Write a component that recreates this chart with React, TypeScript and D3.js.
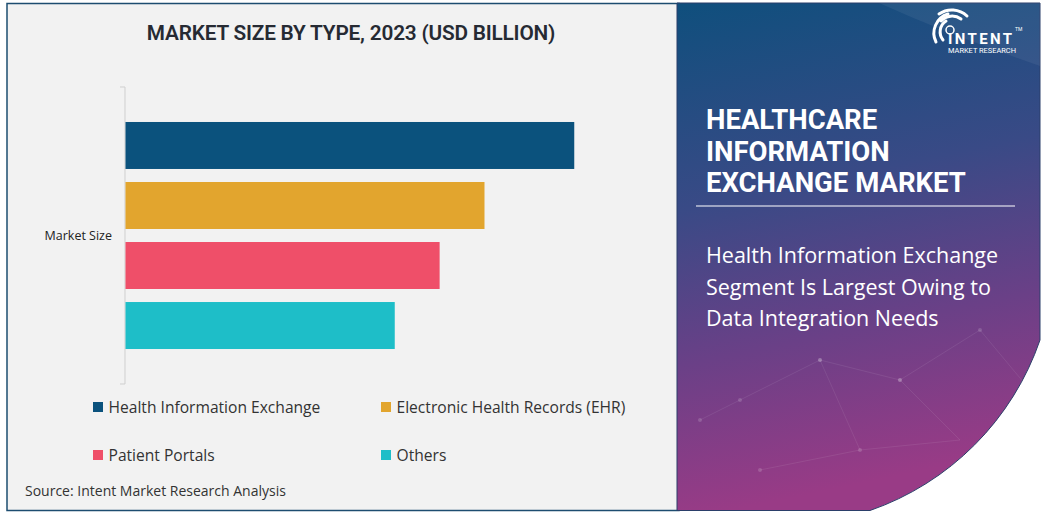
import React from "react";
import * as d3 from "d3";

const categories = ["Market Size"];
const seriesNames = [
  "Health Information Exchange",
  "Electronic Health Records (EHR)",
  "Patient Portals",
  "Others",
];
const seriesValues = [2.5, 2.0, 1.75, 1.5];
const seriesColors = ["#0b527d", "#e2a52e", "#ef4f69", "#1ebec8"];
const chartTitle = "MARKET SIZE BY TYPE, 2023 (USD BILLION)";
const headline = ["HEALTHCARE", "INFORMATION", "EXCHANGE MARKET"];
const subline = [
  "Health Information Exchange",
  "Segment Is Largest Owing to",
  "Data Integration Needs",
];
const sourceText = "Source: Intent Market Research Analysis";

const W = 1043;
const H = 513;

export default function App() {
  const y0 = d3.scaleBand<string>().domain(categories).range([87, 384]).padding(0);
  const y1 = d3
    .scaleBand<string>()
    .domain(seriesNames)
    .range([0, y0.bandwidth()])
    .paddingInner(0.217)
    .paddingOuter(0.583);
  const x = d3.scaleLinear().domain([0, 3]).range([125.5, 664]);

  const legendPos = [
    { x: 93, y: 402 },
    { x: 381, y: 402 },
    { x: 93, y: 450 },
    { x: 381, y: 450 },
  ];

  const panelPath = `M677,3 H1040 V340 A275,275 0 0 1 870,510.5 H677 Z`;

  return (
    <svg
      width={W}
      height={H}
      style={{ position: "absolute", left: 0, top: 0 }}
      fontFamily="'Open Sans', Roboto, sans-serif"
    >
      <defs>
        <linearGradient id="pg" x1="0" y1="0" x2="0.15" y2="1">
          <stop offset="0" stopColor="#0f4f7d" />
          <stop offset="0.4" stopColor="#394a86" />
          <stop offset="0.7" stopColor="#6a4087" />
          <stop offset="1" stopColor="#993b86" />
        </linearGradient>
        <clipPath id="pc">
          <path d={panelPath} />
        </clipPath>
      </defs>
      <rect x={0} y={0} width={W} height={H} fill="#ffffff" />
      {/* left panel */}
      <rect x={7} y={3.5} width={672} height={507} fill="#f2f2f2" stroke="#1d4d70" strokeWidth={1.5} />

      {/* title */}
      <text x={351} y={40} textAnchor="middle" fontFamily="Roboto, sans-serif" fontWeight={600} fontSize={20.8} fill="#262a33" letterSpacing={-0.2}>
        {chartTitle}
      </text>

      {/* axis */}
      {categories.map((c) => {
        const top = y0(c)!;
        const bot = top + y0.bandwidth();
        return (
          <g key={c}>
            <line x1={125} x2={125} y1={top} y2={bot} stroke="#cfcfcf" strokeWidth={1} />
            <line x1={120} x2={125} y1={top} y2={top} stroke="#cfcfcf" strokeWidth={1} />
            <line x1={120} x2={125} y1={bot} y2={bot} stroke="#cfcfcf" strokeWidth={1} />
            <text x={112} y={(top + bot) / 2 + 4} textAnchor="end" fontFamily="'Open Sans', sans-serif" fontSize={12.5} fill="#222">
              {c}
            </text>
            {seriesNames.map((s, i) => (
              <rect
                key={s}
                x={x(0)}
                y={top + y1(s)!}
                width={x(seriesValues[i]) - x(0)}
                height={y1.bandwidth()}
                fill={seriesColors[i]}
              />
            ))}
          </g>
        );
      })}

      {/* legend */}
      {seriesNames.map((s, i) => (
        <g key={s}>
          <rect x={legendPos[i].x} y={legendPos[i].y} width={10} height={10} fill={seriesColors[i]} />
          <text x={legendPos[i].x + 15.5} y={legendPos[i].y + 10.5} fontFamily="'Open Sans', sans-serif" fontSize={15.6} fill="#333">
            {s}
          </text>
        </g>
      ))}

      <text x={25} y={496} fontFamily="'Open Sans', sans-serif" fontSize={14} fill="#333">
        {sourceText}
      </text>

      {/* right panel */}
      <path d={panelPath} fill="url(#pg)" stroke="#2b3f6a" strokeWidth={1} />
      <g clipPath="url(#pc)">
        <path d="M879,3 Q950,35 1040,66 V3 Z" fill="#ffffff" opacity={0.06} />
        {[
          [740, 400, 820, 360], [820, 360, 900, 380], [900, 380, 980, 330],
          [820, 360, 860, 450], [900, 380, 960, 440], [760, 470, 860, 450],
          [980, 330, 1030, 390], [860, 450, 960, 440], [700, 420, 740, 400],
        ].map((l, i) => (
          <g key={i}>
            <line x1={l[0]} y1={l[1]} x2={l[2]} y2={l[3]} stroke="#ffffff" strokeOpacity={0.1} strokeWidth={0.8} />
            <circle cx={l[0]} cy={l[1]} r={2} fill="#ffffff" fillOpacity={0.16} />
          </g>
        ))}
      </g>

      {headline.map((t, i) => (
        <text key={t} x={706} y={129 + i * 31.5} fontFamily="Roboto, sans-serif" fontWeight={700} fontSize={27.5} fill="#ffffff">
          {t}
        </text>
      ))}
      <line x1={696} x2={1015} y1={206} y2={206} stroke="#ffffff" strokeWidth={1.2} />
      {subline.map((t, i) => (
        <text key={t} x={706} y={263 + i * 31.5} fontFamily="'Open Sans', sans-serif" fontWeight={500} fontSize={21.5} fill="#ffffff">
          {t}
        </text>
      ))}

      {/* logo */}
      <g fill="none" stroke="#ffffff" strokeLinecap="round">
        <path d="M943,40 A13,13 0 0 1 946,21" strokeWidth={3} />
        <path d="M936,42 A20,20 0 0 1 948,14" strokeWidth={3} />
        <path d="M941,21 A15,15 0 0 1 961,19" strokeWidth={3} />
        <path d="M939,14 A22,22 0 0 1 967,16" strokeWidth={3} />
        <circle cx={950} cy={30} r={4} strokeWidth={1.5} />
      </g>
      <text x={948} y={44} fontFamily="Roboto, sans-serif" fontWeight={700} fontSize={15} fill="#ffffff" letterSpacing={2.4}>
        INTENT
      </text>
      <text x={1015} y={31} fontFamily="Roboto, sans-serif" fontSize={5} fill="#ffffff">
        TM
      </text>
      <text x={948} y={53} fontFamily="Roboto, sans-serif" fontSize={8} fill="#ffffff" textLength={68} lengthAdjust="spacingAndGlyphs">
        MARKET RESEARCH
      </text>
    </svg>
  );
}
